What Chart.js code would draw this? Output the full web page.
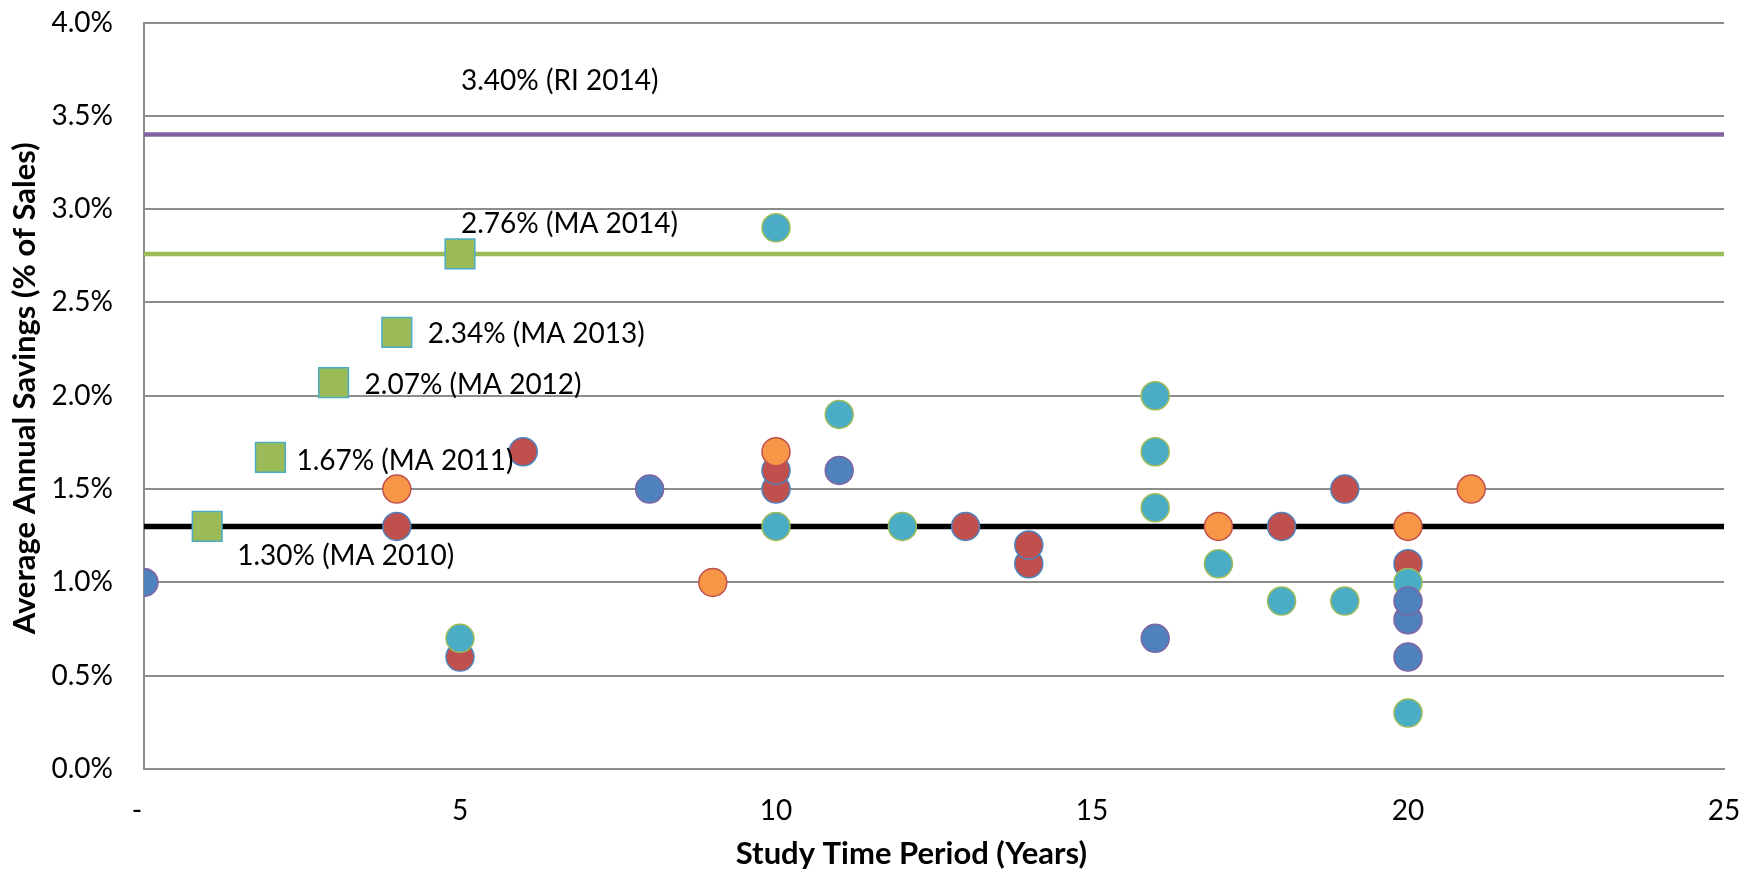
<!DOCTYPE html>
<html>
<head>
<meta charset="utf-8">
<title>Average Annual Savings vs Study Time Period</title>
<script src="https://cdn.jsdelivr.net/npm/chart.js@4.4.1/dist/chart.umd.min.js"></script>
<style>
  html, body { margin: 0; padding: 0; background: #fff; }
  #chart { display: block; }
</style>
</head>
<body>
<canvas id="chart" width="1759" height="873"></canvas>
<script>
// Study time period (years) and average annual savings (% of sales), one pair of arrays per marker colour
var blueYears = [0, 8, 11, 16, 20, 20, 20];
var blueSavings = [1.0, 1.5, 1.6, 0.7, 0.6, 0.8, 0.9];

var redYears = [4, 5, 6, 10, 10, 13, 14, 14, 18, 19, 20];
var redSavings = [1.3, 0.6, 1.7, 1.5, 1.6, 1.3, 1.1, 1.2, 1.3, 1.5, 1.1];

var tealYears = [5, 10, 10, 11, 12, 16, 16, 16, 17, 18, 19, 20, 20];
var tealSavings = [0.7, 2.9, 1.3, 1.9, 1.3, 1.4, 1.7, 2.0, 1.1, 0.9, 0.9, 0.3, 1.0];

var orangeYears = [4, 9, 10, 17, 20, 21];
var orangeSavings = [1.5, 1.0, 1.7, 1.3, 1.3, 1.5];

// Massachusetts program goals
var maYears = [1, 2, 3, 4, 5];
var maSavings = [1.30, 1.67, 2.07, 2.34, 2.76];
var maLabels = ['1.30% (MA 2010)', '1.67% (MA 2011)', '2.07% (MA 2012)', '2.34% (MA 2013)', '2.76% (MA 2014)'];

// Reference lines
var riLevel = 3.40;
var riLabel = '3.40% (RI 2014)';
var riLabelYear = 5;
var ma2014Level = 2.76;
var ma2010Level = 1.30;

var xTicks = [0, 5, 10, 15, 20, 25];
var yTicks = [0, 0.5, 1.0, 1.5, 2.0, 2.5, 3.0, 3.5, 4.0];

function pairs(xs, ys) {
  return xs.map(function (x, i) { return { x: x, y: ys[i] }; });
}

function levelLine(level) {
  return [{ x: xTicks[0], y: level }, { x: xTicks[xTicks.length - 1], y: level }];
}

// pixel offsets of each text label from its anchor point
var maLabelOffsets = [[30, 30], [26, 4], [31, 2], [31, 2], [1, -30]];
var riLabelOffset = [1, -54];

var labelPlugin = {
  id: 'valueLabels',
  afterDatasetsDraw: function (chart) {
    var ctx = chart.ctx;
    var xs = chart.scales.x;
    var ys = chart.scales.y;
    ctx.save();
    ctx.font = '28px Lato';
    ctx.fillStyle = '#000';
    ctx.textAlign = 'left';
    ctx.textBaseline = 'middle';
    maLabels.forEach(function (txt, i) {
      var px = xs.getPixelForValue(maYears[i]) + maLabelOffsets[i][0];
      var py = ys.getPixelForValue(maSavings[i]) + maLabelOffsets[i][1];
      ctx.fillText(txt, px, py);
    });
    ctx.fillText(riLabel,
      xs.getPixelForValue(riLabelYear) + riLabelOffset[0],
      ys.getPixelForValue(riLevel) + riLabelOffset[1]);
    ctx.restore();
  }
};

function circleSet(data, fill, edge, order) {
  return {
    data: data,
    pointStyle: 'circle',
    pointRadius: 14,
    pointBackgroundColor: fill,
    pointBorderColor: edge,
    pointBorderWidth: 1.5,
    showLine: false,
    order: order
  };
}

function lineSet(level, color, width, order) {
  return {
    data: levelLine(level),
    showLine: true,
    borderColor: color,
    borderWidth: width,
    borderCapStyle: 'round',
    pointRadius: 0,
    order: order
  };
}

var tickFont = { family: 'Lato', size: 28 };
var titleFont = { family: 'Lato', size: 31, weight: 'bold' };

new Chart(document.getElementById('chart').getContext('2d'), {
  type: 'scatter',
  data: {
    datasets: [
      lineSet(ma2010Level, '#000000', 5.5, 7),
      lineSet(ma2014Level, '#9BBB59', 4.5, 6),
      lineSet(riLevel, '#8064A2', 4.5, 5),
      circleSet(pairs(redYears, redSavings), '#C0504D', '#4F81BD', 4),
      circleSet(pairs(tealYears, tealSavings), '#4BACC6', '#9BBB59', 3),
      circleSet(pairs(blueYears, blueSavings), '#4F81BD', '#8064A2', 2),
      circleSet(pairs(orangeYears, orangeSavings), '#F79646', '#C0504D', 1),
      {
        data: pairs(maYears, maSavings),
        pointStyle: 'rect',
        pointRadius: 21,
        pointBackgroundColor: '#9BBB59',
        pointBorderColor: '#4BACC6',
        pointBorderWidth: 1.5,
        showLine: false,
        order: 0
      }
    ]
  },
  options: {
    responsive: false,
    animation: false,
    devicePixelRatio: 1,
    events: [],
    layout: { padding: { top: 20, right: 35, bottom: 0, left: 0 } },
    plugins: { legend: { display: false }, tooltip: { enabled: false } },
    scales: {
      x: {
        type: 'linear',
        min: xTicks[0],
        max: xTicks[xTicks.length - 1],
        afterBuildTicks: function (s) { s.ticks = xTicks.map(function (v) { return { value: v }; }); },
        afterFit: function (s) {
          s.height = 104;
          s.paddingLeft = 0;
          s.paddingRight = 0;
        },
        ticks: {
          color: '#000',
          font: tickFont,
          padding: 25,
          maxRotation: 0,
          callback: function (v) { return v === 0 ? '-  ' : String(v); }
        },
        grid: { display: false, drawTicks: false },
        border: { display: true, color: '#8c8c8c', width: 2 },
        // trailing spaces nudge the centred title a little left, as in the original
        title: { display: true, text: 'Study Time Period (Years)      ', color: '#000', font: titleFont, padding: { top: 0, bottom: 0 } }
      },
      y: {
        type: 'linear',
        min: yTicks[0],
        max: yTicks[yTicks.length - 1],
        afterBuildTicks: function (s) { s.ticks = yTicks.map(function (v) { return { value: v }; }); },
        afterFit: function (s) {
          s.width = 144;
          s.paddingTop = 0;
          s.paddingBottom = 0;
        },
        ticks: {
          color: '#000',
          font: tickFont,
          padding: 31,
          callback: function (v) { return v.toFixed(1) + '%'; }
        },
        grid: { color: '#8c8c8c', lineWidth: 2, drawTicks: false },
        border: { display: true, color: '#8c8c8c', width: 2 },
        title: { display: true, text: '  Average Annual Savings (% of Sales)', color: '#000', font: titleFont, padding: { top: 6, bottom: 0 } }
      }
    }
  },
  plugins: [labelPlugin]
});
</script>
</body>
</html>
